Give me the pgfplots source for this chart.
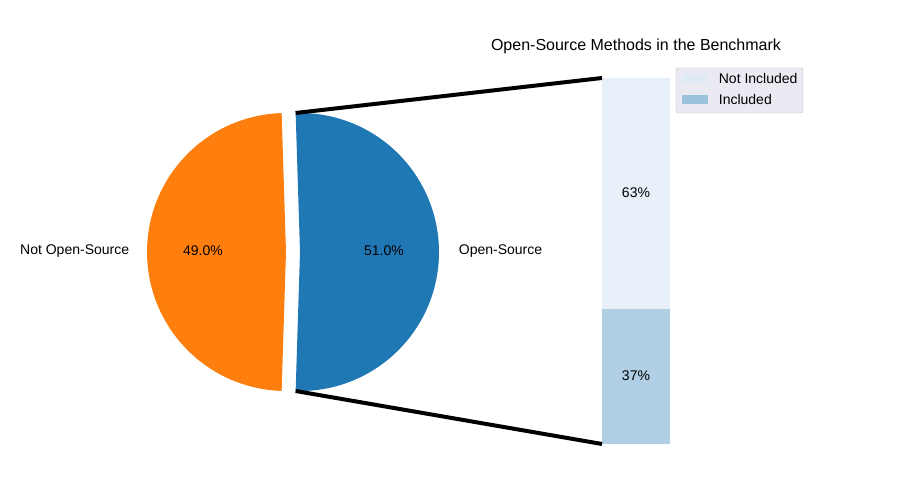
\documentclass[border=0pt]{standalone}
\usepackage{pgfplots}
\pgfplotsset{compat=1.18}
\usepackage{fontspec}
\setmainfont{Liberation Sans}
\definecolor{pblue}{HTML}{1F77B4}
\definecolor{porange}{HTML}{FF7F0E}
\definecolor{incl}{HTML}{B0CFE4}
\definecolor{notincl}{HTML}{E7EFF8}
\definecolor{legbg}{HTML}{EAEAF2}
\begin{document}
\fontsize{14}{16}\selectfont
\begin{tikzpicture}
\begin{axis}[hide axis, scale only axis, width=900pt, height=500pt,
  xmin=0, xmax=900, ymin=0, ymax=500, clip=false]
\path (axis cs:0,0) rectangle (axis cs:900,500);
% pie: open-source 51%, not open-source 49%
\def\os{51.0}\def\nos{49.0}
\pgfmathsetmacro{\ha}{180*\os/100}
\fill[pblue] (axis cs:300,248) -- ++(-\ha:139pt) arc[start angle=-\ha, end angle=\ha, radius=139pt] -- cycle;
\fill[porange] (axis cs:286,248) -- ++(\ha:139pt) arc[start angle=\ha, end angle=360-\ha, radius=139pt] -- cycle;
% bar: included 37%, not included 63%
\addplot[fill=incl, draw=none] coordinates {(602,56)(670,56)(670,191.4)(602,191.4)} --cycle;
\addplot[fill=notincl, draw=none] coordinates {(602,191.4)(670,191.4)(670,422)(602,422)} --cycle;
% connecting lines
\addplot[black, line width=4pt] coordinates {(295.6,387)(602,422)};
\addplot[black, line width=4pt] coordinates {(295.6,109)(602,56)};
\node at (axis cs:203,249) {49.0\%};
\node at (axis cs:384,249) {51.0\%};
\node[anchor=east] at (axis cs:134,249) {Not Open-Source};
\node[anchor=west] at (axis cs:454,249) {Open-Source};
\node at (axis cs:636,307) {63\%};
\node at (axis cs:636,124) {37\%};
\node at (axis cs:636,454) {\fontsize{16}{18}\selectfont Open-Source Methods in the Benchmark};
% legend
\draw[fill=legbg, draw=lightgray, rounded corners=2pt] (axis cs:676,432) rectangle (axis cs:803,387);
\fill[notincl!85!incl] (axis cs:682,426) rectangle (axis cs:708,417);
\fill[incl!85!pblue] (axis cs:682,405) rectangle (axis cs:708,396);
\node[anchor=west] at (axis cs:714,421.5) {Not Included};
\node[anchor=west] at (axis cs:714,400.5) {Included};
\end{axis}
\end{tikzpicture}
\end{document}
